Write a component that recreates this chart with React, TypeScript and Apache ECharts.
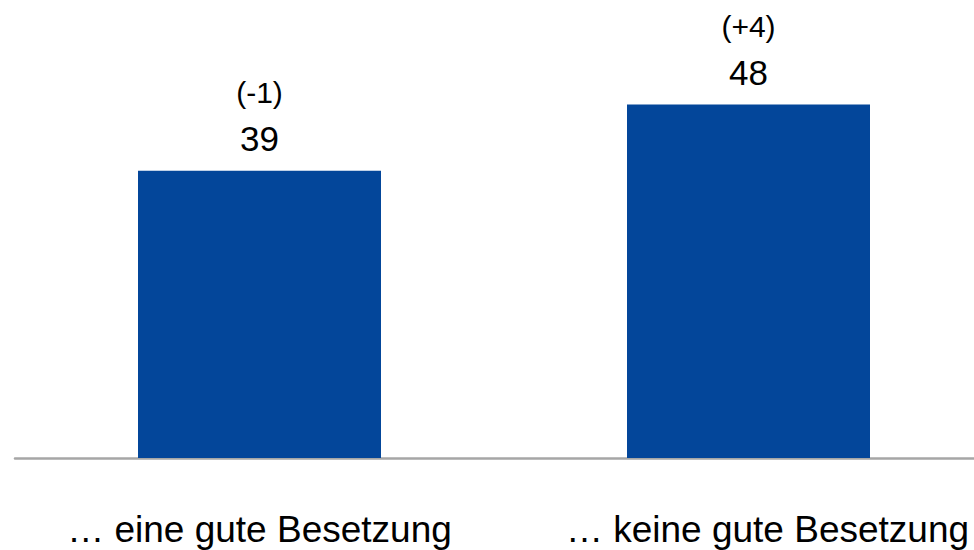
import React, { useEffect, useRef } from "react";
import * as echarts from "echarts";

const categories = ["… eine gute Besetzung", "… keine gute Besetzung"];
const values = [39, 48];
const changes = ["(-1)", "(+4)"];

const FONT = "'Liberation Sans', Arial, Helvetica, sans-serif";

export default function App() {
  const ref = useRef<HTMLDivElement>(null);
  useEffect(() => {
    if (!ref.current) return;
    const chart = echarts.init(ref.current, null, { renderer: "svg" });
    chart.setOption({
      animation: false,
      grid: { left: 15, right: 7, top: 16, bottom: 92, containLabel: false },
      xAxis: {
        type: "category",
        data: categories,
        axisLine: { show: true, lineStyle: { color: "#A6A6A6", width: 2.5 } },
        axisTick: { show: false },
        axisLabel: {
          interval: 0,
          margin: 53,
          formatter: (v: string, i: number) => (i === 1 ? `{b|${v}}` : `{a|${v}}`),
          rich: {
            a: { fontSize: 37, lineHeight: 37, color: "#000", fontFamily: FONT },
            b: { fontSize: 37, lineHeight: 37, color: "#000", fontFamily: FONT, padding: [0, 0, 0, 38] },
          },
        },
      },
      yAxis: {
        type: "value",
        min: 0,
        max: 60,
        show: false,
        splitLine: { show: false },
      },
      series: [
        {
          type: "bar",
          data: values,
          barWidth: 243,
          itemStyle: { color: "#03469A" },
          label: {
            show: true,
            position: "top",
            distance: 9,
            formatter: (p: any) => `{d|${changes[p.dataIndex]}}\n{v|${p.value}}`,
            rich: {
              d: { fontSize: 30, lineHeight: 46, color: "#000", fontFamily: FONT, align: "center" },
              v: { fontSize: 35, lineHeight: 46, color: "#000", fontFamily: FONT, align: "center" },
            },
          },
        },
      ],
    });
    return () => chart.dispose();
  }, []);
  return (
    <div
      style={{ position: "fixed", left: 0, top: 0, width: 974, height: 550, overflow: "hidden", background: "#fff" }}
    >
      <div ref={ref} style={{ width: 1000, height: 550 }} />
    </div>
  );
}
